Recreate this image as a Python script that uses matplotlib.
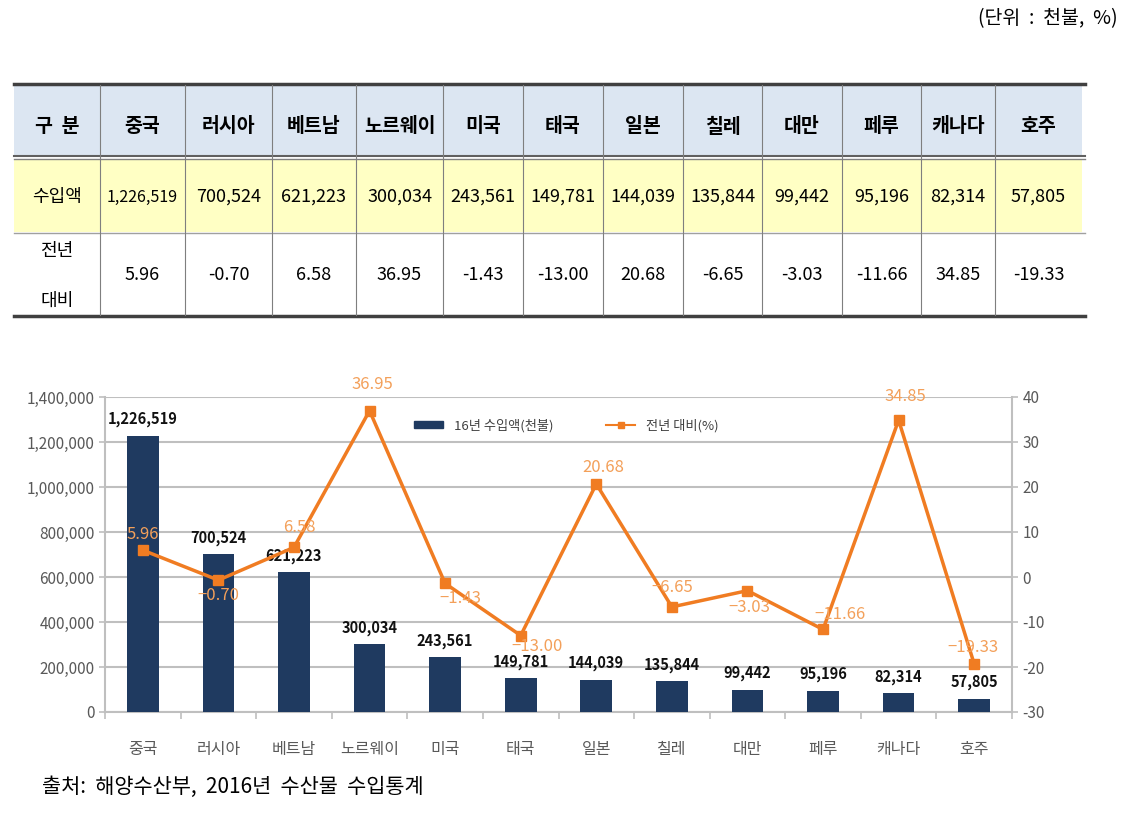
import matplotlib.pyplot as plt
import numpy as np
from matplotlib.patches import Rectangle
from matplotlib.lines import Line2D
from matplotlib.ticker import FuncFormatter, MultipleLocator

plt.rcParams['font.family'] = ['Noto Sans CJK KR', 'DejaVu Sans']
plt.rcParams['axes.unicode_minus'] = False

# data
countries = ['중국', '러시아', '베트남', '노르웨이', '미국', '태국',
             '일본', '칠레', '대만', '페루', '캐나다', '호주']
imports = [1226519, 700524, 621223, 300034, 243561, 149781,
           144039, 135844, 99442, 95196, 82314, 57805]
change = [5.96, -0.70, 6.58, 36.95, -1.43, -13.00,
          20.68, -6.65, -3.03, -11.66, 34.85, -19.33]

# label offsets for the orange labels (points), picked by eye
line_label_offsets = [(0, 11), (0, -11), (4, 14), (2, 19), (11, -11), (12, -8),
                      (5, 12), (0, 14), (1, -12), (12, 11), (5, 17), (-1, 12)]

NAVY = '#1F3A60'
ORANGE = '#F07C22'
LABEL_ORANGE = '#F3A05A'
GRAY_TXT = '#595959'
GRID = '#BFBFBF'

fig = plt.figure(figsize=(11.46, 8.15), dpi=100)

# ---------- table (pixel coordinates) ----------
tab = fig.add_axes([0, 1 - 330 / 815, 1, 330 / 815])
tab.set_xlim(0, 1146)
tab.set_ylim(330, 0)
tab.axis('off')

col_edges = [14, 100, 185, 272, 356, 443, 523, 603, 683, 762, 842, 921, 995, 1082]
rows = [(85, 155, '#DCE6F2'), (159, 232, '#FFFFC4'), (234, 315, 'white')]
for top, bot, color in rows:
    tab.add_patch(Rectangle((col_edges[0], top), col_edges[-1] - col_edges[0], bot - top,
                            facecolor=color, edgecolor='none'))

# horizontal rules
tab.plot([14, 1085], [84, 84], color='#404040', lw=2.5)
tab.plot([14, 1085], [156, 156], color='#606060', lw=1.5)
tab.plot([14, 1085], [159, 159], color='#808080', lw=1.0)
tab.plot([14, 1085], [233, 233], color='#A0A0A0', lw=1.0)
tab.plot([14, 1085], [316, 316], color='#404040', lw=2.5)
for x in col_edges[1:-1]:
    tab.plot([x, x], [85, 315], color='#7F7F7F', lw=0.8)

centers = [(a + b) / 2 for a, b in zip(col_edges[:-1], col_edges[1:])]
tab.text(centers[0], 127, '구  분', ha='center', va='center', fontsize=14, fontweight='bold')
tab.text(centers[0], 197, '수입액', ha='center', va='center', fontsize=13)
tab.text(centers[0], 251, '전년', ha='center', va='center', fontsize=13)
tab.text(centers[0], 301, '대비', ha='center', va='center', fontsize=13)
for i, name in enumerate(countries):
    cx = centers[i + 1]
    tab.text(cx, 127, name, ha='center', va='center', fontsize=14, fontweight='bold')
    size = 11.5 if i == 0 else 13
    tab.text(cx, 197, f'{imports[i]:,}', ha='center', va='center', fontsize=size)
    tab.text(cx, 275, f'{change[i]:.2f}', ha='center', va='center', fontsize=13)

fig.text(1118 / 1146, 1 - 19 / 815, '(단위  :  천불,  %)', ha='right', va='center', fontsize=14)
fig.text(42 / 1146, 1 - 787 / 815, '출처:  해양수산부,  2016년  수산물  수입통계',
         ha='left', va='center', fontsize=15)

# ---------- chart ----------
ax = fig.add_axes([105 / 1146, 1 - 712 / 815, 907 / 1146, 315 / 815])
x = np.arange(len(countries))
ax.bar(x, imports, width=0.42, color=NAVY, zorder=3, label='16년 수입액(천불)')
ax.set_xlim(-0.5, len(countries) - 0.5)
ax.set_ylim(0, 1400000)
ax.yaxis.set_major_locator(MultipleLocator(200000))
ax.yaxis.set_major_formatter(FuncFormatter(lambda v, p: f'{int(v):,}'))
ax.grid(axis='y', color=GRID, lw=1.5, zorder=0)
ax.set_axisbelow(True)

for xi, v in zip(x, imports):
    ax.annotate(f'{v:,}', (xi, v), xytext=(0, 12), textcoords='offset points',
                ha='center', va='center', fontsize=10.5, fontweight='bold', color='#111111',
                zorder=6)

ax.set_xticks(x)
ax.set_xticklabels(countries, fontsize=11.5, color=GRAY_TXT)
ax.set_xticks(np.arange(-0.5, len(countries)), minor=True)
ax.tick_params(axis='x', which='major', length=0, pad=21)
ax.tick_params(axis='x', which='minor', length=5, color=GRID, width=1.2)
ax.tick_params(axis='y', length=4, color=GRID, labelsize=11, labelcolor=GRAY_TXT, width=1.2)
for side in ['top', 'right']:
    ax.spines[side].set_visible(False)
ax.spines['left'].set_color(GRID)
ax.spines['bottom'].set_color(GRID)
ax.spines['left'].set_linewidth(1.5)
ax.spines['bottom'].set_linewidth(1.5)

ax2 = ax.twinx()
ax2.plot(x, change, color=ORANGE, lw=2.5, marker='s', markersize=7,
         zorder=4, label='전년 대비(%)')
ax2.set_ylim(-30, 40)
ax2.yaxis.set_major_locator(MultipleLocator(10))
ax2.yaxis.set_major_formatter(FuncFormatter(lambda v, p: f'{int(round(v))}'))
ax2.tick_params(axis='y', length=4, color=GRID, labelsize=11, labelcolor=GRAY_TXT, width=1.2)
for side in ['top', 'left', 'bottom']:
    ax2.spines[side].set_visible(False)
ax2.spines['right'].set_color(GRID)
ax2.spines['right'].set_linewidth(1.5)

for xi, v, (dx, dy) in zip(x, change, line_label_offsets):
    ax2.annotate(f'{v:.2f}'.replace('-', '\u2212'), (xi, v), xytext=(dx, dy),
                 textcoords='offset points', ha='center', va='center',
                 fontsize=12, color=LABEL_ORANGE, zorder=7)

handles = [Rectangle((0, 0), 1, 1, color=NAVY),
           Line2D([], [], color=ORANGE, lw=1.5, marker='s', markersize=4)]
ax2.legend(handles, ['16년 수입액(천불)', '전년 대비(%)'], loc='center left',
           bbox_to_anchor=(0.328, 0.91), ncol=2, frameon=False, fontsize=9.5,
           labelcolor='#404040', handlelength=2.2, handleheight=0.5, columnspacing=4)

fig.savefig('out.png', dpi=100)
